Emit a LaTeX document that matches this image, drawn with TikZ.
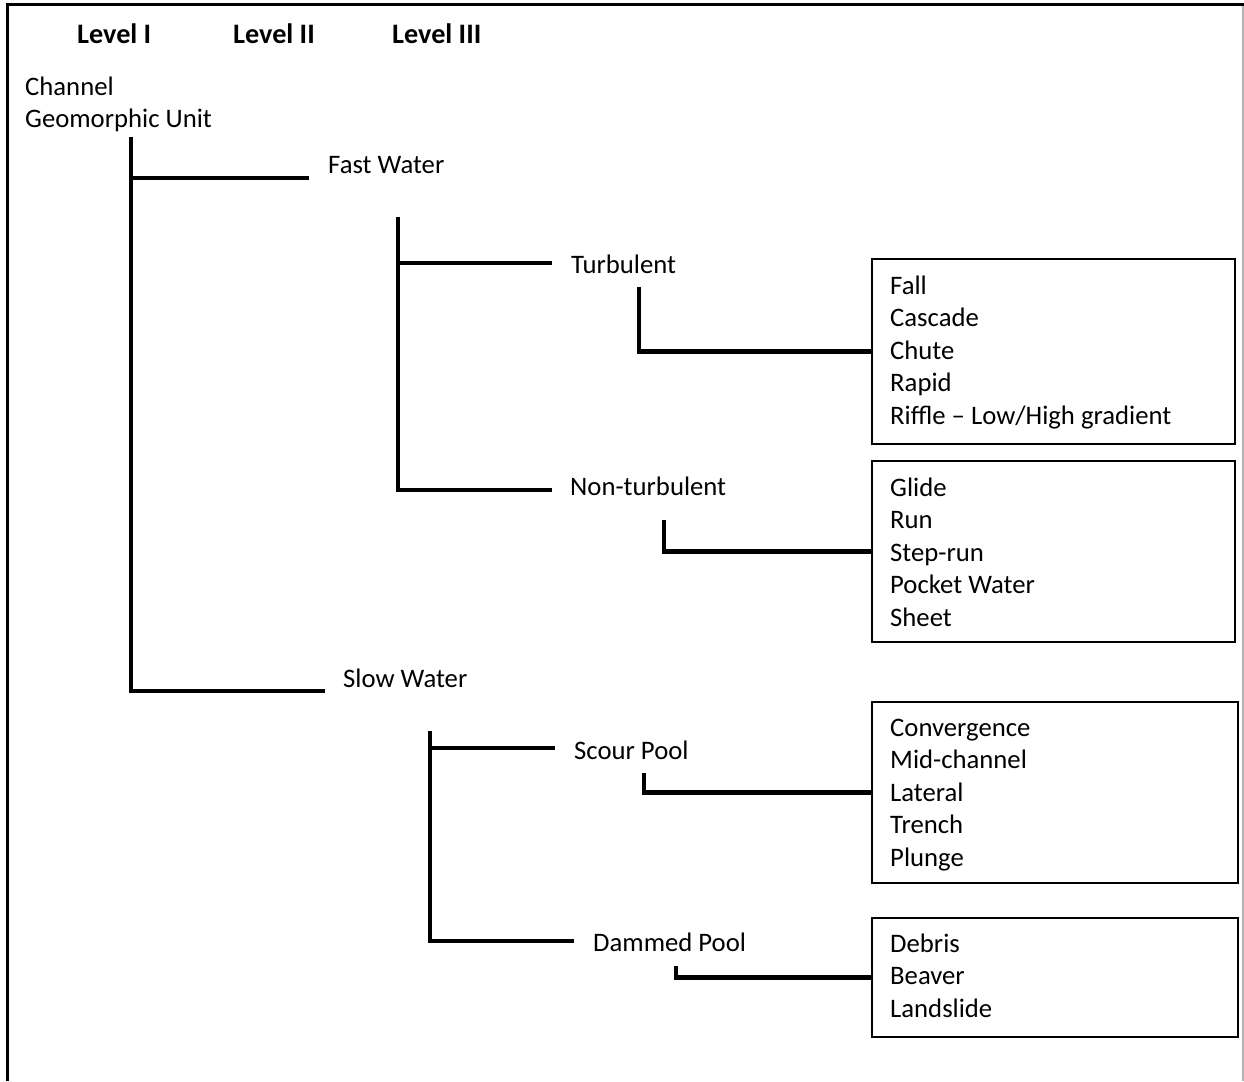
\documentclass[tikz,border=0pt]{standalone}
\usepackage{fontspec}
\setmainfont{Carlito}
\begin{document}
\begin{tikzpicture}[x=1pt,y=-1pt,
  lbl/.style={anchor=base west,inner sep=0pt,font=\fontsize{26.7}{32.6}\selectfont},
  hdr/.style={lbl,font=\fontsize{28.2}{34}\selectfont\bfseries},
  tree/.style={line width=4.6pt,line cap=butt,line join=miter},
  itembox/.style={draw,line width=2.2pt,rectangle,inner sep=0pt,anchor=north west},
  frameline/.style={line width=3pt}]
\useasboundingbox (0,0) rectangle (1244,1081);
% page frame
\coordinate (ftl) at (7,5);
\coordinate (ftr) at (1244,5);
\coordinate (fbl) at (7,1081);
\draw[frameline] (fbl) -- (ftl) -- (ftr);
\coordinate (frt) at (1243,6);
\coordinate (frb) at (1243,1081);
\draw[gray!60,line width=1.2pt] (frt) -- (frb);

% headers
\node[hdr] (h1) at (77,44) {Level I};
\node[hdr] (h2) at (233,44) {Level II};
\node[hdr] (h3) at (392,44) {Level III};

% level labels
\node[lbl] (ch) at (25,95) {Channel};
\node[lbl] (gu) at (25,127.6) {Geomorphic Unit};
\node[lbl] (fw) at (328,173) {Fast Water};
\node[lbl] (sw) at (343,687) {Slow Water};
\node[lbl] (tu) at (571,273) {Turbulent};
\node[lbl] (nt) at (570,495) {Non-turbulent};
\node[lbl] (sp) at (574,759) {Scour Pool};
\node[lbl] (dp) at (593,951) {Dammed Pool};

% boxes
\node[itembox,minimum width=363pt,minimum height=185pt] (b1) at (871,258) {};
\node[itembox,minimum width=363pt,minimum height=181pt] (b2) at (871,460) {};
\node[itembox,minimum width=366pt,minimum height=181pt] (b3) at (871,701) {};
\node[itembox,minimum width=366pt,minimum height=119pt] (b4) at (871,917) {};

\foreach \t [count=\i] in {Fall,Cascade,Chute,Rapid,Riffle -- Low/High gradient}
  \node[lbl] (b1i\i) at (890,{294+32.5*(\i-1)}) {\t};
\foreach \t [count=\i] in {Glide,Run,Step-run,Pocket Water,Sheet}
  \node[lbl] (b2i\i) at (890,{496+32.5*(\i-1)}) {\t};
\foreach \t [count=\i] in {Convergence,Mid-channel,Lateral,Trench,Plunge}
  \node[lbl] (b3i\i) at (890,{736+32.5*(\i-1)}) {\t};
\foreach \t [count=\i] in {Debris,Beaver,Landslide}
  \node[lbl] (b4i\i) at (890,{952+32.5*(\i-1)}) {\t};

% level I tree
\coordinate (l1top) at (131,137);
\coordinate (l1fw) at (309,178);
\coordinate (l1sw) at (325,691);
\draw[tree] (l1top) |- (l1sw);
\draw[tree] (l1top |- l1fw) -- (l1fw);

% fast water tree
\coordinate (l2atop) at (398,217);
\coordinate (l2atu) at (552,263);
\coordinate (l2ant) at (552,490);
\draw[tree] (l2atop) |- (l2ant);
\draw[tree] (l2atop |- l2atu) -- (l2atu);

% slow water tree
\coordinate (l2btop) at (430,731);
\coordinate (l2bsp) at (555,748);
\coordinate (l2bdp) at (574,941);
\draw[tree] (l2btop) |- (l2bdp);
\draw[tree] (l2btop |- l2bsp) -- (l2bsp);

% connectors to boxes
\coordinate (tuc) at (639,287);
\coordinate (ntc) at (664,520);
\coordinate (spc) at (644,773);
\coordinate (dpc) at (676,966);
\draw[tree] (tuc) |- (b1.west);
\draw[tree] (ntc) |- (b2.west);
\draw[tree] (spc) |- (b3.west);
\draw[tree] (dpc) |- (b4.west);
\end{tikzpicture}
\end{document}
